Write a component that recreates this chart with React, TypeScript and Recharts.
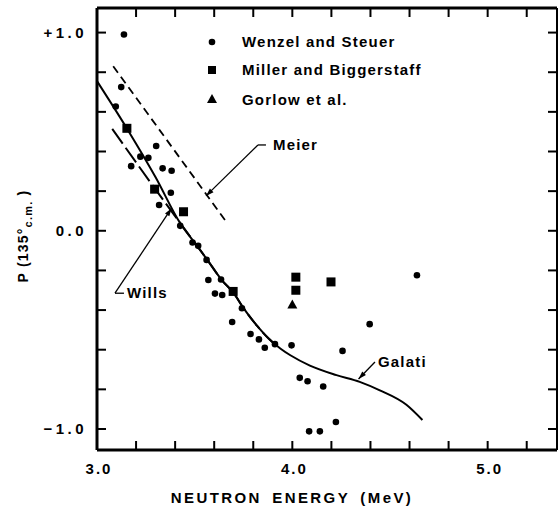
import React from 'react';
import { ComposedChart, Line, Scatter, XAxis, YAxis, ReferenceLine, Legend } from 'recharts';

// ---------- data ----------
const xTicks = [3.0, 3.2, 3.4, 3.6, 3.8, 4.0, 4.2, 4.4, 4.6, 4.8, 5.0, 5.2];
const xTickLabels = ['3.0', '4.0', '5.0'];
const yTicks = [-1.0, -0.8, -0.6, -0.4, -0.2, 0.0, 0.2, 0.4, 0.6, 0.8, 1.0];
const yTickLabels: Record<string, string> = { '1.0': '+1.0', '0.0': '0.0', '-1.0': '\u22121.0' };

const wenzelSteuer = [
  { x: 3.138, y: 0.99 }, { x: 3.124, y: 0.725 }, { x: 3.096, y: 0.627 }, { x: 3.303, y: 0.428 },
  { x: 3.222, y: 0.374 }, { x: 3.263, y: 0.368 }, { x: 3.175, y: 0.326 }, { x: 3.336, y: 0.315 },
  { x: 3.382, y: 0.303 }, { x: 3.378, y: 0.192 }, { x: 3.318, y: 0.13 }, { x: 3.426, y: 0.025 },
  { x: 3.489, y: -0.059 }, { x: 3.518, y: -0.076 }, { x: 3.561, y: -0.147 }, { x: 3.570, y: -0.248 },
  { x: 3.635, y: -0.246 }, { x: 3.604, y: -0.317 }, { x: 3.641, y: -0.324 }, { x: 3.742, y: -0.391 },
  { x: 3.692, y: -0.46 }, { x: 3.786, y: -0.521 }, { x: 3.829, y: -0.548 }, { x: 3.859, y: -0.59 },
  { x: 3.911, y: -0.572 }, { x: 3.996, y: -0.578 }, { x: 4.038, y: -0.742 }, { x: 4.078, y: -0.759 },
  { x: 4.158, y: -0.786 }, { x: 4.223, y: -0.965 }, { x: 4.086, y: -1.012 }, { x: 4.141, y: -1.012 },
  { x: 4.396, y: -0.471 }, { x: 4.257, y: -0.606 }, { x: 4.638, y: -0.224 },
];
const millerBiggerstaff = [
  { x: 3.153, y: 0.517 }, { x: 3.295, y: 0.21 }, { x: 3.443, y: 0.096 }, { x: 3.697, y: -0.306 },
  { x: 4.018, y: -0.234 }, { x: 4.018, y: -0.3 }, { x: 4.198, y: -0.258 },
];
const gorlow = [{ x: 4.0, y: -0.372 }];

const meier = [{ x: 3.083, y: 0.83 }, { x: 3.668, y: 0.037 }];
const wills = [
  { x: 3.078, y: 0.514 }, { x: 3.295, y: 0.215 }, { x: 3.41, y: 0.06 }, { x: 3.5, y: -0.06 },
  { x: 3.56, y: -0.14 }, { x: 3.64, y: -0.25 }, { x: 3.7, y: -0.315 }, { x: 3.75, y: -0.39 },
  { x: 3.82, y: -0.48 }, { x: 3.88, y: -0.545 }, { x: 3.93, y: -0.59 },
];
const galati = [
  { x: 3.0, y: 0.755 }, { x: 3.16, y: 0.505 }, { x: 3.3, y: 0.27 }, { x: 3.425, y: 0.04 },
  { x: 3.5, y: -0.06 }, { x: 3.56, y: -0.14 }, { x: 3.64, y: -0.25 }, { x: 3.7, y: -0.315 },
  { x: 3.75, y: -0.39 }, { x: 3.82, y: -0.48 }, { x: 3.88, y: -0.545 }, { x: 3.94, y: -0.595 },
  { x: 3.99, y: -0.628 }, { x: 4.09, y: -0.68 }, { x: 4.226, y: -0.728 }, { x: 4.345, y: -0.762 },
  { x: 4.448, y: -0.805 }, { x: 4.584, y: -0.878 }, { x: 4.666, y: -0.955 },
];

// annotation anchors (corner of leader, tip of arrow) in data units
const meierNote = { label: 'Meier', corner: { x: 3.824, y: 0.433 }, tip: { x: 3.558, y: 0.176 } };
const willsNote = { label: 'Wills', corner: { x: 3.092, y: -0.315 }, tip: { x: 3.382, y: 0.114 } };
const galatiNote = { label: 'Galati', corner: { x: 4.423, y: -0.662 }, tip: { x: 4.339, y: -0.748 } };

const legendItems = ['Wenzel and Steuer', 'Miller and Biggerstaff', 'Gorlow et al.'];

// anchor that ties the frame (top / right) axes to the chart
const frameAnchor = [{ x: 4.0, y: 0.0 }];

// ---------- styles ----------
const FONT = '"Liberation Sans", Arial, sans-serif';
const tickFont: React.CSSProperties = { fontFamily: FONT, fontSize: 15, fontWeight: 'bold', letterSpacing: 2 };
const yTickFont: React.CSSProperties = { fontFamily: FONT, fontSize: 15, fontWeight: 'bold', letterSpacing: 3.5 };
const textFont: React.CSSProperties = { fontFamily: FONT, fontSize: 15, fontWeight: 'bold', letterSpacing: 1.2 };

const BottomTick = (p: any) => {
  const v = Number(p.payload.value).toFixed(1);
  const lab = xTickLabels.includes(v) ? v : null;
  return (
    <g>
      {v !== '3.0' && <line x1={p.x} x2={p.x} y1={p.y} y2={p.y - 9} stroke="#000" strokeWidth={2} />}
      {lab && (
        <text x={p.x + 2} y={p.y + 24} textAnchor="middle" fill="#000" style={tickFont}>{lab}</text>
      )}
    </g>
  );
};
const TopTick = (p: any) => {
  const v = Number(p.payload.value).toFixed(1);
  if (v === '3.0') return <g />;
  return <line x1={p.x} x2={p.x} y1={p.y} y2={p.y + 9} stroke="#000" strokeWidth={2} />;
};
const LeftTick = (p: any) => {
  const v = Number(p.payload.value).toFixed(1).replace('-0.0', '0.0');
  const lab = yTickLabels[v];
  return (
    <g>
      <line x1={p.x} x2={p.x + 9} y1={p.y} y2={p.y} stroke="#000" strokeWidth={2} />
      {lab && (
        <text x={p.x - 10} y={p.y + 5.5} textAnchor="end" fill="#000" style={yTickFont}>{lab}</text>
      )}
    </g>
  );
};
const RightTick = (p: any) => (
  <line x1={p.x} x2={p.x - 9} y1={p.y} y2={p.y} stroke="#000" strokeWidth={2} />
);

const Dot = (p: any) => <circle cx={p.cx} cy={p.cy} r={3.3} fill="#000" />;
const Sq = (p: any) => <rect x={p.cx - 4.5} y={p.cy - 4.5} width={9} height={9} fill="#000" />;
const Tri = (p: any) => (
  <polygon points={`${p.cx},${p.cy - 5} ${p.cx - 5},${p.cy + 4} ${p.cx + 5},${p.cy + 4}`} fill="#000" />
);
const Nothing = () => <g />;

const arrowHead = (x1: number, y1: number, x2: number, y2: number) => {
  const a = Math.atan2(y2 - y1, x2 - x1);
  const L = 8, W = 2.6;
  const bx = x2 - L * Math.cos(a), by = y2 - L * Math.sin(a);
  const px = -Math.sin(a) * W, py = Math.cos(a) * W;
  return `${x2},${y2} ${bx + px},${by + py} ${bx - px},${by - py}`;
};

const makeLeader = (label: string, stub: number, textGap: number) => (p: any) => {
  const { x1, y1, x2, y2 } = p;
  return (
    <g>
      <line x1={x1} y1={y1} x2={x2} y2={y2} stroke="#000" strokeWidth={1.3} />
      <polygon points={arrowHead(x1, y1, x2, y2)} fill="#000" />
      {stub > 0 && <line x1={x1} y1={y1} x2={x1 + stub} y2={y1} stroke="#000" strokeWidth={1.3} />}
      <text x={x1 + textGap} y={y1 + 5} fill="#000" style={textFont}>{label}</text>
    </g>
  );
};

const LegendBox = () => (
  <svg width={260} height={92} style={{ display: 'block', overflow: 'visible' }}>
    <circle cx={12} cy={15} r={3.3} fill="#000" />
    <rect x={8} y={39} width={8} height={8} fill="#000" />
    <polygon points="12,67 7,76 17,76" fill="#000" />
    {legendItems.map((t, i) => (
      <text key={t} x={42} y={[15, 43, 73][i] + 5} fill="#000" style={textFont}>{t}</text>
    ))}
  </svg>
);

const YLabel = () => (
  <text transform="rotate(-90, 28, 236)" x={28} y={236} textAnchor="middle" fill="#000"
    style={{ fontFamily: FONT, fontSize: 14, fontWeight: 'bold', letterSpacing: 1.2 }}>
    P (135°<tspan dy={4} fontSize={11}>c.m.</tspan><tspan dy={-4}> )</tspan>
  </text>
);
const XLabel = () => (
  <text x={292} y={503} textAnchor="middle" fill="#000"
    style={{ fontFamily: FONT, fontSize: 15, fontWeight: 'bold', letterSpacing: 2.4, wordSpacing: 4 }}>
    NEUTRON ENERGY (MeV)
  </text>
);

const X_DOMAIN: [number, number] = [3.0, 5.355];
const Y_DOMAIN: [number, number] = [-1.106, 1.124];

export default function App() {
  return (
    <div style={{ position: 'absolute', left: 0, top: 0, width: 558, height: 510, background: '#fff' }}>
      <ComposedChart width={558} height={510} margin={{ top: 7, right: 0, bottom: 0, left: 0 }}>
        <XAxis dataKey="x" type="number" domain={X_DOMAIN} ticks={xTicks} allowDataOverflow
          height={60} tickSize={0} tickMargin={0} tickLine={false} interval={0}
          axisLine={{ stroke: '#000', strokeWidth: 3 }} tick={<BottomTick />} label={<XLabel />} />
        <XAxis xAxisId="top" dataKey="x" orientation="top" type="number" domain={X_DOMAIN} ticks={xTicks} allowDataOverflow
          height={1} tickSize={0} tickMargin={0} tickLine={false} interval={0}
          axisLine={{ stroke: '#000', strokeWidth: 3 }} tick={<TopTick />} />
        <YAxis dataKey="y" type="number" domain={Y_DOMAIN} ticks={yTicks} allowDataOverflow
          width={97} tickSize={0} tickMargin={0} tickLine={false} interval={0}
          axisLine={{ stroke: '#000', strokeWidth: 3 }} tick={<LeftTick />} label={<YLabel />} />
        <YAxis yAxisId="r" dataKey="y" orientation="right" type="number" domain={Y_DOMAIN} ticks={yTicks} allowDataOverflow
          width={1} tickSize={0} tickMargin={0} tickLine={false} interval={0}
          axisLine={{ stroke: '#000', strokeWidth: 2 }} tick={<RightTick />} />

        <Line data={galati} dataKey="y" type="monotone" stroke="#000" strokeWidth={2} dot={false}
          activeDot={false} isAnimationActive={false} legendType="none" />
        <Line data={wills} dataKey="y" type="monotone" stroke="#000" strokeWidth={2} strokeDasharray="18 5"
          dot={false} activeDot={false} isAnimationActive={false} legendType="none" />
        <Line data={meier} dataKey="y" type="linear" stroke="#000" strokeWidth={1.8} strokeDasharray="8 5"
          dot={false} activeDot={false} isAnimationActive={false} legendType="none" />

        <Scatter data={wenzelSteuer} dataKey="y" shape={<Dot />} isAnimationActive={false} />
        <Scatter data={millerBiggerstaff} dataKey="y" shape={<Sq />} isAnimationActive={false} />
        <Scatter data={gorlow} dataKey="y" shape={<Tri />} isAnimationActive={false} />
        <Scatter data={frameAnchor} dataKey="y" xAxisId="top" yAxisId="r" shape={<Nothing />}
          isAnimationActive={false} legendType="none" />

        <ReferenceLine segment={[meierNote.corner, meierNote.tip]} shape={makeLeader(meierNote.label, 8, 15)} />
        <ReferenceLine segment={[willsNote.corner, willsNote.tip]} shape={makeLeader(willsNote.label, 9, 12)} />
        <ReferenceLine segment={[galatiNote.corner, galatiNote.tip]} shape={makeLeader(galatiNote.label, 0, 3)} />

        <Legend layout="vertical" align="center" verticalAlign="middle" content={<LegendBox />}
          wrapperStyle={{ position: 'absolute', left: 200, top: 27, width: 260, height: 92 }} />
      </ComposedChart>
    </div>
  );
}
